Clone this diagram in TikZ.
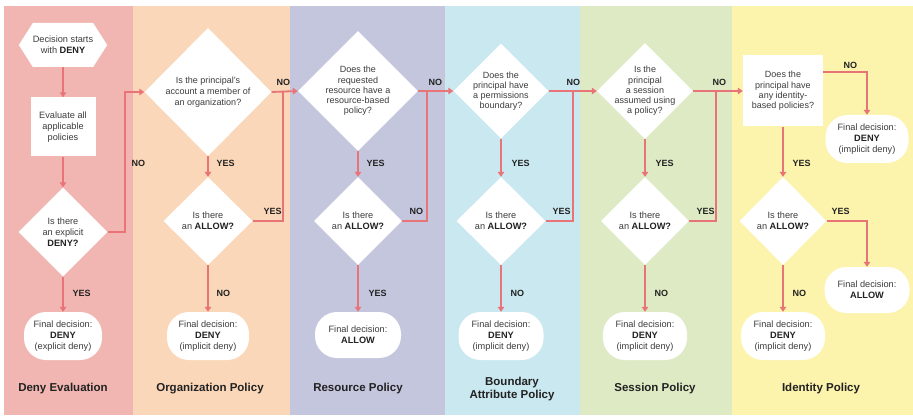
\documentclass[tikz,border=0pt]{standalone}
\usepackage{fontspec}
\setmainfont{Liberation Sans}
\usetikzlibrary{shapes.geometric,shapes.symbols,arrows.meta}
\definecolor{cpink}{HTML}{F2B6B2}
\definecolor{cpeach}{HTML}{FAD7B9}
\definecolor{clav}{HTML}{C4C6DE}
\definecolor{cblue}{HTML}{CAE8F0}
\definecolor{cgreen}{HTML}{DDEAC4}
\definecolor{cyellow}{HTML}{FCF3AD}
\definecolor{arr}{HTML}{E87478}
\definecolor{txt}{HTML}{3C3C3C}
\definecolor{txtdark}{HTML}{222222}
\tikzset{
  stxt/.style={font=\fontsize{9.2}{10.8}\selectfont, text=txt, align=center},
  dia/.style={diamond, fill=white, inner sep=0pt},
  boxw/.style={rectangle, fill=white, inner sep=0pt, stxt},
  fin/.style={rectangle, rounded corners=22pt, fill=white, inner sep=0pt, stxt},
  conn/.style={draw=arr, line width=1.8pt, -{Triangle[length=5pt,width=6.5pt]}},
  plain/.style={draw=arr, line width=1.8pt},
  yn/.style={font=\bfseries\fontsize{9}{10}\selectfont, text=txtdark, anchor=west},
  ttl/.style={font=\bfseries\fontsize{11.5}{13.5}\selectfont, text=txtdark, align=center}
}
\begin{document}
\begin{tikzpicture}[x=1pt,y=-1pt]
\useasboundingbox (0,0) rectangle (913,417);
\fill[white] (0,0) rectangle (913,417);
% bands
\fill[cpink] (4,6) rectangle (133,415);
\fill[cpeach] (133,6) rectangle (290,415);
\fill[clav] (290,6) rectangle (445,415);
\fill[cblue] (445,6) rectangle (580,415);
\fill[cgreen] (580,6) rectangle (732,415);
\fill[cyellow] (732,6) rectangle (913,415);

% column 1
\node[signal, signal to=west and east, signal pointer angle=115, fill=white, inner sep=0pt,
      minimum width=85pt, minimum height=44pt, stxt] (hex) at (63,45) {Decision starts\\with \textbf{\color{txtdark}DENY}};
\node[boxw, minimum width=65pt, minimum height=59pt] (eval) at (63,127) {Evaluate all\\applicable\\policies};
\node[dia, minimum width=89pt, minimum height=89pt,
      label={[stxt]center:{Is there\\an explicit\\\textbf{\color{txtdark}DENY?}}}] (dd) at (63,232) {};
\node[fin, minimum width=78pt, minimum height=48pt] (fd1) at (63,336) {Final decision:\\\textbf{\color{txtdark}DENY}\\(explicit deny)};
\node[ttl] (t1) at (63,389) {Deny Evaluation};

% column 2
\node[dia, minimum width=127pt, minimum height=128pt,
      label={[stxt, font=\fontsize{9}{10.8}\selectfont]center:{Is the principal's\\account a member of\\an organization?}}] (org) at (208,92) {};
\node[dia, minimum width=89pt, minimum height=88pt,
      label={[stxt]center:{Is there\\an \textbf{\color{txtdark}ALLOW?}}}] (od) at (208,221) {};
\node[fin, minimum width=82pt, minimum height=48pt] (fo) at (208,336) {Final decision:\\\textbf{\color{txtdark}DENY}\\(implicit deny)};
\node[ttl] (t2) at (210,389) {Organization Policy};

% column 3
\node[dia, minimum width=120pt, minimum height=120pt,
      label={[stxt, font=\fontsize{9}{10.2}\selectfont]center:{Does the\\requested\\resource have a\\resource-based\\policy?}}] (res) at (358,91) {};
\node[dia, minimum width=88pt, minimum height=88pt,
      label={[stxt]center:{Is there\\an \textbf{\color{txtdark}ALLOW?}}}] (rd) at (358,221) {};
\node[fin, minimum width=86pt, minimum height=46pt] (fr) at (358,335) {Final decision:\\\textbf{\color{txtdark}ALLOW}};
\node[ttl] (t3) at (358,389) {Resource Policy};

% column 4
\node[dia, minimum width=95pt, minimum height=95pt,
      label={[stxt, font=\fontsize{9}{10.2}\selectfont]center:{Does the\\principal have\\a permissions\\boundary?}}] (bd) at (501,91) {};
\node[dia, minimum width=89pt, minimum height=88pt,
      label={[stxt]center:{Is there\\an \textbf{\color{txtdark}ALLOW?}}}] (bd2) at (501,221) {};
\node[fin, minimum width=85pt, minimum height=48pt] (fb) at (501,336) {Final decision:\\\textbf{\color{txtdark}DENY}\\(implicit deny)};
\node[ttl] (t4) at (512,389) {Boundary\\Attribute Policy};

% column 5
\node[dia, minimum width=96pt, minimum height=96pt,
      label={[stxt, font=\fontsize{9}{10.2}\selectfont]center:{Is the\\principal\\a session\\assumed using\\a policy?}}] (sd) at (645,91) {};
\node[dia, minimum width=88pt, minimum height=88pt,
      label={[stxt]center:{Is there\\an \textbf{\color{txtdark}ALLOW?}}}] (sd2) at (645,221) {};
\node[fin, minimum width=84pt, minimum height=48pt] (fs) at (645,336) {Final decision:\\\textbf{\color{txtdark}DENY}\\(implicit deny)};
\node[ttl] (t5) at (655,389) {Session Policy};

% column 6
\node[boxw, minimum width=80pt, minimum height=71pt, font=\fontsize{9}{10.4}\selectfont] (id) at (783,91) {Does the\\principal have\\any identity-\\based policies?};
\node[dia, minimum width=87pt, minimum height=88pt,
      label={[stxt]center:{Is there\\an \textbf{\color{txtdark}ALLOW?}}}] (idd) at (783,221) {};
\node[fin, minimum width=83pt, minimum height=48pt] (fi1) at (867,139) {Final decision:\\\textbf{\color{txtdark}DENY}\\(implicit deny)};
\node[fin, minimum width=85pt, minimum height=46pt] (fia) at (867,290) {Final decision:\\\textbf{\color{txtdark}ALLOW}};
\node[fin, minimum width=84pt, minimum height=48pt] (fi2) at (783,336) {Final decision:\\\textbf{\color{txtdark}DENY}\\(implicit deny)};
\node[ttl] (t6) at (821,389) {Identity Policy};

% junction coordinates
\coordinate (j1) at (125,232);
\coordinate (j2) at (283,92);
\coordinate (j3) at (427,91);
\coordinate (j4) at (573,91);
\coordinate (j5) at (716,91);

% connectors column 1
\draw[conn] (hex.south) -- (eval.north);
\draw[conn] (eval.south) -- (dd.north);
\draw[conn] (dd.east) -- (j1) |- (org.west);
\draw[conn] (dd.south) -- (fd1.north);
% column 2
\draw[conn] (org.east) -- (res.west);
\draw[conn] (org.south) -- (od.north);
\draw[plain] (od.east) -| (j2);
\draw[conn] (od.south) -- (fo.north);
% column 3
\draw[conn] (res.east) -- (bd.west);
\draw[conn] (res.south) -- (rd.north);
\draw[plain] (rd.east) -| (j3);
\draw[conn] (rd.south) -- (fr.north);
% column 4
\draw[conn] (bd.east) -- (sd.west);
\draw[conn] (bd.south) -- (bd2.north);
\draw[plain] (bd2.east) -| (j4);
\draw[conn] (bd2.south) -- (fb.north);
% column 5
\draw[conn] (sd.east) -- (id.west);
\draw[conn] (sd.south) -- (sd2.north);
\draw[plain] (sd2.east) -| (j5);
\draw[conn] (sd2.south) -- (fs.north);
% column 6
\draw[conn] ([yshift=19pt]id.east) -| (fi1.north);
\draw[conn] (id.south) -- (idd.north);
\draw[conn] (idd.east) -| (fia.north);
\draw[conn] (idd.south) -- (fi2.north);

% labels
\node[yn] (l1) at (128,163) {NO};
\node[yn] (l2) at (69,293) {YES};
\node[yn] (l3) at (273,82) {NO};
\node[yn] (l4) at (213,163) {YES};
\node[yn] (l5) at (260,211) {YES};
\node[yn] (l6) at (213,293) {NO};
\node[yn] (l7) at (425,82) {NO};
\node[yn] (l8) at (363,163) {YES};
\node[yn] (l9) at (406,211) {NO};
\node[yn] (l10) at (365,293) {YES};
\node[yn] (l11) at (563,82) {NO};
\node[yn] (l12) at (508,163) {YES};
\node[yn] (l13) at (549,211) {YES};
\node[yn] (l14) at (507,293) {NO};
\node[yn] (l15) at (709,82) {NO};
\node[yn] (l16) at (652,163) {YES};
\node[yn] (l17) at (693,211) {YES};
\node[yn] (l18) at (651,293) {NO};
\node[yn] (l19) at (840,65) {NO};
\node[yn] (l20) at (789,163) {YES};
\node[yn] (l21) at (828,211) {YES};
\node[yn] (l22) at (789,293) {NO};
\end{tikzpicture}
\end{document}
